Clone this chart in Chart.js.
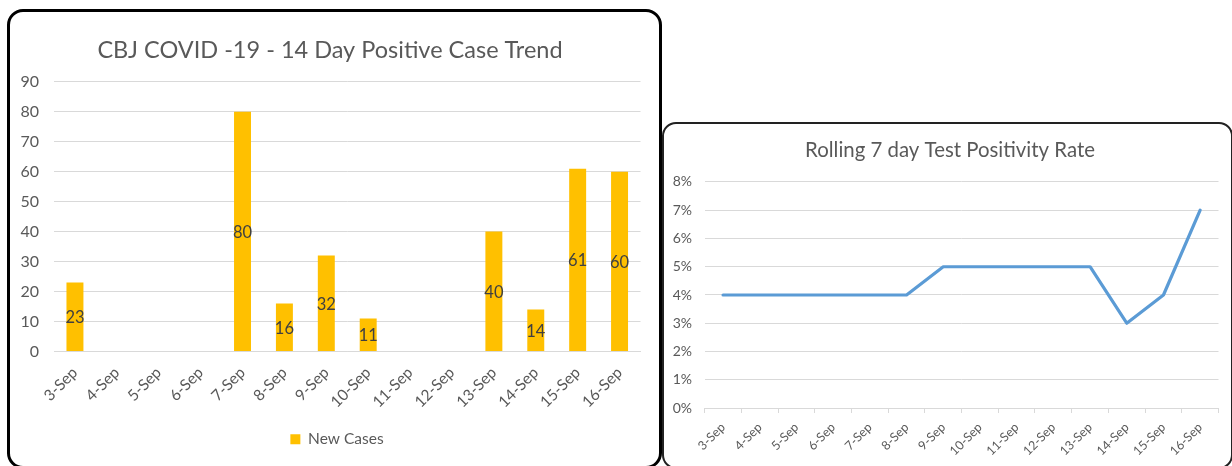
<!DOCTYPE html>
<html>
<head>
<meta charset="utf-8">
<script src="https://cdn.jsdelivr.net/npm/chart.js@4.4.0/dist/chart.umd.min.js"></script>
<style>
  html, body { margin:0; padding:0; background:#fff; width:1232px; height:466px; overflow:hidden; }
  .box { position:absolute; box-sizing:border-box; background:#fff; }
  #box1 { left:7px; top:9px; width:655px; height:460px; border:3px solid #000; border-radius:16px; }
  #box2 { left:662px; top:122px; width:571px; height:347px; border:2px solid #222; border-radius:14px; }
  .wrap { position:absolute; }
</style>
</head>
<body>
<div class="box" id="box1"></div>
<div class="box" id="box2"></div>
<div class="wrap" style="left:0;top:0;width:662px;height:466px;"><canvas id="c1"></canvas></div>
<div class="wrap" style="left:664px;top:124px;width:566px;height:342px;"><canvas id="c2"></canvas></div>
<script>
const days = ['3-Sep','4-Sep','5-Sep','6-Sep','7-Sep','8-Sep','9-Sep','10-Sep','11-Sep','12-Sep','13-Sep','14-Sep','15-Sep','16-Sep'];
const newCases = [23, null, null, null, 80, 16, 32, 11, null, null, 40, 14, 61, 60];
const positivityPct = [4, 4, 4, 4, 4, 4, 5, 5, 5, 5, 5, 3, 4, 7];
const caseTicks = [0, 10, 20, 30, 40, 50, 60, 70, 80, 90];
const pctTicks = [0, 1, 2, 3, 4, 5, 6, 7, 8];

const FONT = 'Lato, "Open Sans", sans-serif';
const GREY = '#595959';
const GRID = '#d9d9d9';

const barLabels = {
  id: 'barLabels',
  afterDatasetsDraw(chart) {
    const ctx = chart.ctx;
    const meta = chart.getDatasetMeta(0);
    const data = chart.data.datasets[0].data;
    ctx.save();
    ctx.font = '16.5px ' + FONT;
    ctx.fillStyle = '#404040';
    ctx.textAlign = 'center';
    ctx.textBaseline = 'middle';
    meta.data.forEach((el, i) => {
      if (data[i] === null || data[i] === undefined) return;
      ctx.fillText(String(data[i]), el.x, (el.y + el.base) / 2 + 1);
    });
    ctx.restore();
  }
};

const legendShift = {
  id: 'legendShift',
  afterLayout(chart) {
    if (chart.legend) { chart.legend.left += 7; chart.legend.right += 7; }
  }
};

// widen the y-axis label clip area so tick labels are not cut off
const yLabelRoom = {
  id: 'yLabelRoom',
  afterLayout(chart) {
    const y = chart.scales.y;
    if (y) { y.left = 0; }
  }
};

// Left chart
new Chart(document.getElementById('c1'), {
  type: 'bar',
  data: {
    labels: days,
    datasets: [{
      label: 'New Cases',
      data: newCases,
      backgroundColor: '#FFC000',
      borderWidth: 0,
      categoryPercentage: 1,
      barPercentage: 0.405
    }]
  },
  options: {
    responsive: true,
    maintainAspectRatio: false,
    animation: false,
    layout: { padding: { left: 19.5, right: 21.5, top: 35.9, bottom: 9 } },
    plugins: {
      title: {
        display: true,
        text: 'CBJ COVID -19 - 14 Day Positive Case Trend',
        color: GREY,
        font: { family: FONT, size: 23.5, weight: 'normal' },
        padding: { top: 0, bottom: 17.6 }
      },
      legend: {
        display: true,
        position: 'bottom',
        labels: {
          color: GREY,
          boxWidth: 10,
          boxHeight: 10,
          padding: 10,
          font: { family: FONT, size: 15.5 }
        }
      },
      tooltip: { enabled: false }
    },
    scales: {
      x: {
        grid: { display: false, drawTicks: false },
        border: { display: true, color: GRID, width: 1 },
        ticks: {
          color: GREY,
          font: { family: FONT, size: 15.5 },
          maxRotation: 45,
          minRotation: 45,
          padding: 12,
          autoSkip: false
        },
        afterFit(s) { s.height = 70; }
      },
      y: {
        min: 0,
        max: 90,
        afterBuildTicks(s) { s.ticks = caseTicks.map(v => ({ value: v })); },
        grid: { color: GRID, lineWidth: 1, drawTicks: false },
        border: { display: false },
        ticks: {
          color: GREY,
          font: { family: FONT, size: 16 },
          padding: 15
        },
        afterFit(s) { s.width = 34.5; }
      }
    }
  },
  plugins: [barLabels, legendShift, yLabelRoom]
});

// Right chart
new Chart(document.getElementById('c2'), {
  type: 'line',
  data: {
    labels: days,
    datasets: [{
      label: 'Rolling 7 day Test Positivity Rate',
      data: positivityPct,
      borderColor: '#5B9BD5',
      backgroundColor: '#5B9BD5',
      borderWidth: 3.2,
      pointRadius: 0,
      tension: 0,
      borderJoinStyle: 'round',
      borderCapStyle: 'round',
      fill: false
    }]
  },
  options: {
    responsive: true,
    maintainAspectRatio: false,
    animation: false,
    layout: { padding: { left: 17.5, right: 11.5, top: 13.8, bottom: 0 } },
    plugins: {
      title: {
        display: true,
        text: 'Rolling 7 day Test Positivity Rate',
        color: GREY,
        font: { family: FONT, size: 20.4, weight: 'normal' },
        padding: { top: 0, bottom: 19.7 }
      },
      legend: { display: false },
      tooltip: { enabled: false }
    },
    scales: {
      x: {
        offset: true,
        grid: { display: true, drawOnChartArea: false, offset: true, color: GRID, tickLength: 5 },
        border: { display: true, color: GRID, width: 1 },
        ticks: {
          color: GREY,
          font: { family: FONT, size: 12.5 },
          maxRotation: 45,
          minRotation: 45,
          padding: 7,
          autoSkip: false
        },
        afterFit(s) { s.height = 58; }
      },
      y: {
        min: 0,
        max: 8,
        afterBuildTicks(s) { s.ticks = pctTicks.map(v => ({ value: v })); },
        afterTickToLabelConversion(s) { s.ticks.forEach((t, i) => { t.label = pctTicks[i] + '%'; }); },
        grid: { color: GRID, lineWidth: 1, drawTicks: false },
        border: { display: false },
        ticks: {
          color: GREY,
          font: { family: FONT, size: 14 },
          padding: 12.7
        },
        afterFit(s) { s.width = 23.2; }
      }
    }
  },
  plugins: [yLabelRoom]
});
</script>
</body>
</html>
